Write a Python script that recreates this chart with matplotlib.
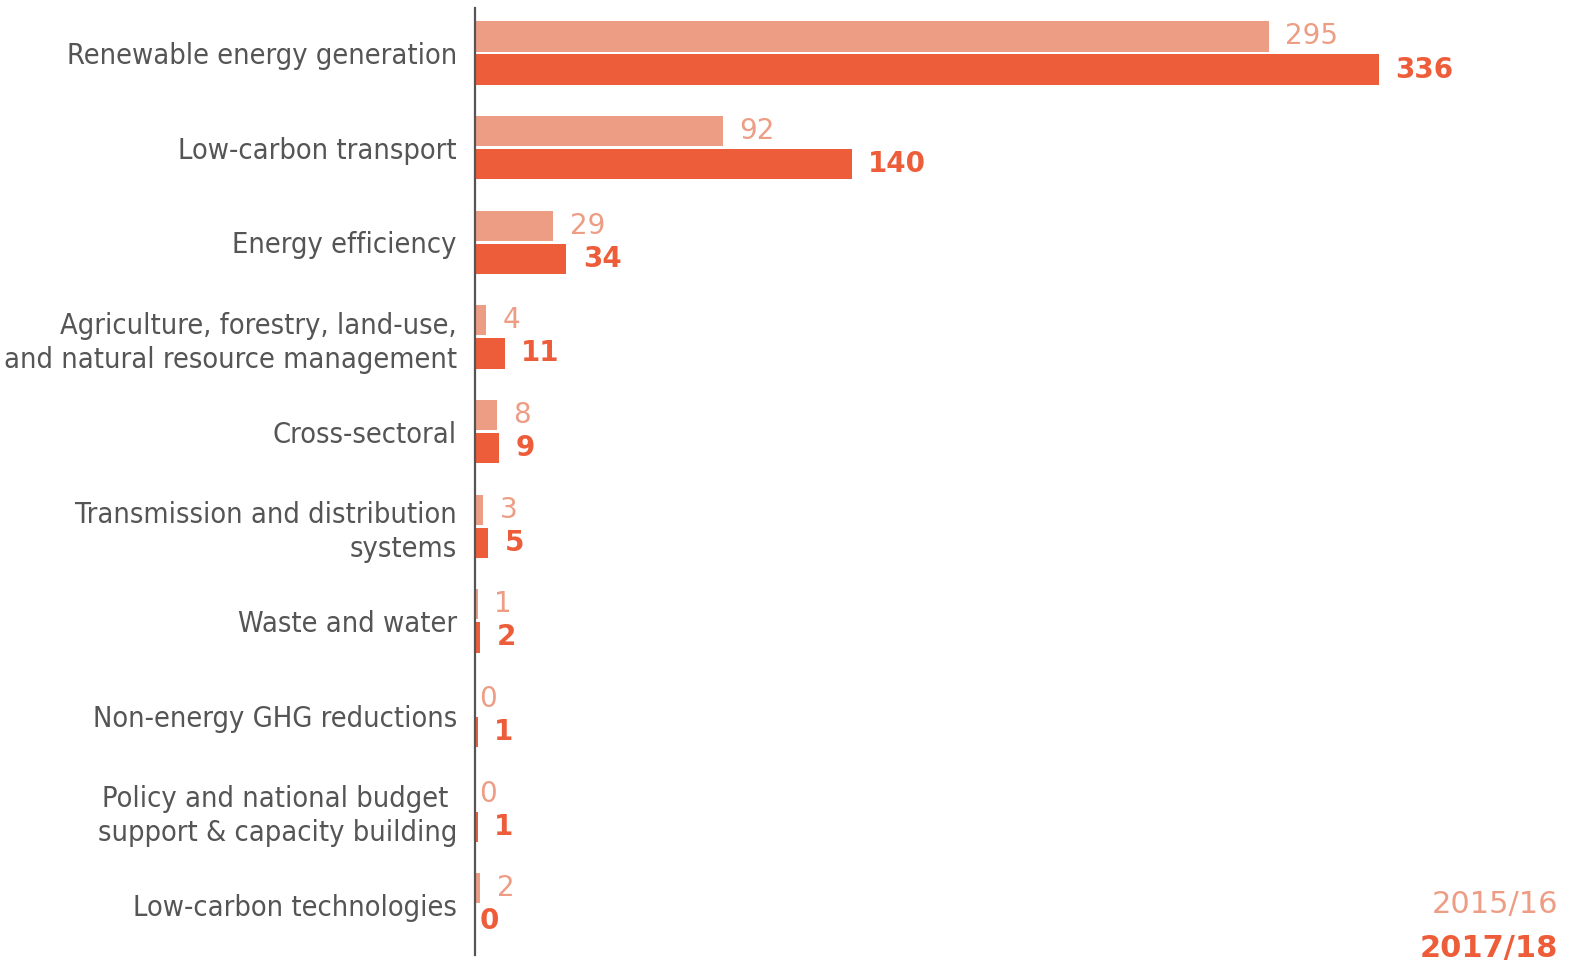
import numpy as np
import matplotlib.pyplot as plt

# Data
categories = [
    "Renewable energy generation",
    "Low-carbon transport",
    "Energy efficiency",
    "Agriculture, forestry, land-use,\nand natural resource management",
    "Cross-sectoral",
    "Transmission and distribution\nsystems",
    "Waste and water",
    "Non-energy GHG reductions",
    "Policy and national budget \nsupport & capacity building",
    "Low-carbon technologies",
]
vals_2015 = [295, 92, 29, 4, 8, 3, 1, 0, 0, 2]
vals_2017 = [336, 140, 34, 11, 9, 5, 2, 1, 1, 0]
series_labels = ["2015/16", "2017/18"]

light = "#EE9D85"
dark = "#EE5D3A"
grey = "#555555"

plt.rcParams['font.family'] = ['DejaVu Sans']

fig = plt.figure(figsize=(15.85, 9.66), dpi=100)
ax = fig.add_axes([475 / 1585, 11 / 966, 1110 / 1585, 947 / 966])

y = np.arange(len(categories))
h = 0.32
off = 0.175
b1 = ax.barh(y - off, vals_2015, height=h, color=light)
b2 = ax.barh(y + off, vals_2017, height=h, color=dark)

# value labels next to the bars
for rect, v in zip(b1, vals_2015):
    ax.annotate(str(v), (rect.get_width(), rect.get_y() + rect.get_height() / 2),
                xytext=(12 if v else 3, 0), textcoords="offset points",
                va="center", ha="left", fontsize=20, color=light)
for rect, v in zip(b2, vals_2017):
    ax.annotate(str(v), (rect.get_width(), rect.get_y() + rect.get_height() / 2),
                xytext=(12 if v else 3, 0), textcoords="offset points",
                va="center", ha="left", fontsize=20, color=dark,
                fontweight="bold")

ax.set_xlim(0, 412.6)
ax.set_ylim(9.53, -0.475)
ax.set_yticks(y)
ax.set_yticklabels(categories, fontsize=20.8, color=grey, linespacing=1.28,
                   fontstretch="condensed")
ax.tick_params(axis="y", length=0, pad=13)
ax.set_xticks([])

for s in ["top", "right", "bottom"]:
    ax.spines[s].set_visible(False)
ax.spines["left"].set_color(grey)
ax.spines["left"].set_linewidth(1.6)

# legend as coloured text
fig.text(1558 / 1585, 1 - 905 / 966, series_labels[0], ha="right", va="center",
         fontsize=22, color=light)
fig.text(1558 / 1585, 1 - 948 / 966, series_labels[1], ha="right", va="center",
         fontsize=22, color=dark, fontweight="bold")

fig.savefig("out.png", dpi=100, facecolor="white")
